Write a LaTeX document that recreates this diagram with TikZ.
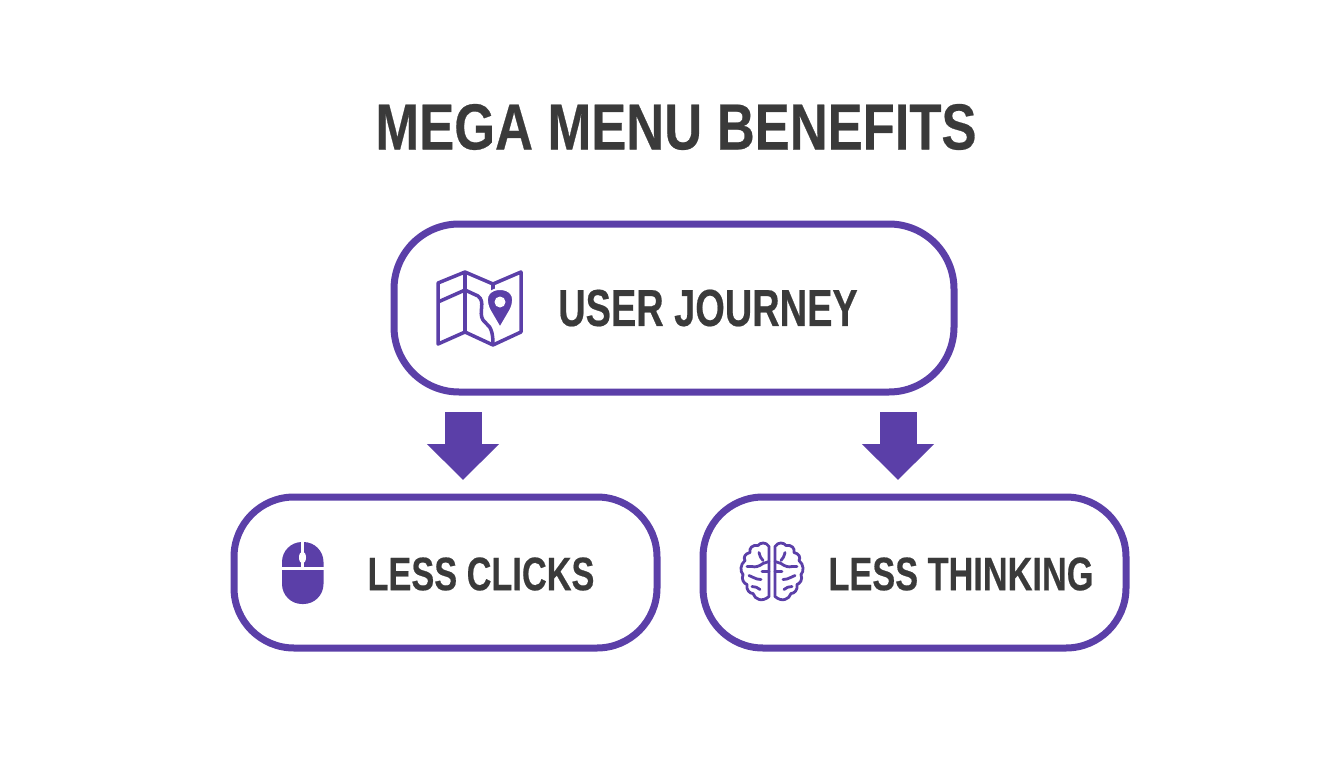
\documentclass[tikz,border=0pt]{standalone}
\usepackage{fontspec}
\setmainfont[FakeStretch=0.808,BoldFeatures={FakeBold=0.4}]{Liberation Sans}
\newfontfamily\labelfont[FakeStretch=0.73,BoldFeatures={FakeBold=0.4}]{Liberation Sans}
\usetikzlibrary{arrows.meta}
\usetikzlibrary{positioning}
\definecolor{brandpurple}{HTML}{5B3FA8}
\definecolor{inkgray}{HTML}{3A3A3A}
\tikzset{benefitbox/.style = {draw=brandpurple, line width=7pt, rounded corners=#1, inner sep=0}}
\tikzset{flowarrow/.style = {draw=brandpurple, line width=37pt, -{Triangle[width=70pt,length=36pt,fill=brandpurple]}}}
\tikzset{titletext/.style = {text=inkgray, inner sep=0, font=\fontsize{65}{70}\selectfont\bfseries}}
\tikzset{bigtext/.style = {text=inkgray, inner sep=0, font=\labelfont\fontsize{52}{56}\selectfont\bfseries}}
\tikzset{smalltext/.style = {text=inkgray, inner sep=0, font=\labelfont\fontsize{47}{50}\selectfont\bfseries}}
\tikzset{iconline/.style = {draw=brandpurple, line width=3.5pt, line join=round}}
\tikzset{brainline/.style = {draw=brandpurple, line width=2.8pt, line cap=round, line join=round}}

\begin{document}
\begin{tikzpicture}[x=1pt, y=-1pt]
      \useasboundingbox (0, 0) rectangle (1344, 768);

      \node [titletext] (title) at (676, 127) {MEGA MENU BENEFITS};

      \node [benefitbox=65pt, minimum width=560pt, minimum height=168pt] (journey) at (674, 308) {};
      \node [benefitbox=60pt, minimum width=423pt, minimum height=151pt] (clicks) at (445.5, 572.5) {};
      \node [benefitbox=60pt, minimum width=423pt, minimum height=151pt] (thinking) at (914.5, 572.5) {};

      \node [bigtext] (journeytext) at (708, 308) {USER JOURNEY};
      \node [smalltext] (clickstext) at (481, 574) {LESS CLICKS};
      \node [smalltext] (thinkingtext) at (961, 574) {LESS THINKING};

      \coordinate (leftdrop) at (463, 0);
      \coordinate (rightdrop) at (898, 0);
      \draw [flowarrow, shorten <=16.5pt, shorten >=13.5pt] (journey.south -| leftdrop) -- (clicks.north -| leftdrop);
      \draw [flowarrow, shorten <=16.5pt, shorten >=13.5pt] (journey.south -| rightdrop) -- (thinking.north -| rightdrop);

      % map
      \draw [iconline] (438, 283) -- (465, 272) -- (493, 284) -- (521, 272) -- (521, 332) -- (493, 345) -- (465, 332) -- (438, 344) -- cycle;
      \draw [iconline] (465, 272) -- (465, 332);
      \draw [iconline] (493, 284) -- (493, 300);
      \draw [iconline] (438, 302) -- (465, 290) -- (478, 296) .. controls (486, 302) and (478, 312) .. (483, 320) .. controls (487, 326) and (493, 324) .. (493, 345);
      \fill [brandpurple, draw=white, line width=2pt] (500, 328) -- (489.5, 310) .. controls (482, 294) and (492, 289) .. (500, 289) .. controls (508, 289) and (518, 294) .. (510.5, 310) -- cycle;
      \fill [white] (500, 302) circle [radius=5.5];

      % mouse
      \fill [brandpurple, rounded corners=20pt] (282, 542) rectangle (323.5, 604);
      \draw [white, line width=2.5pt] (280, 568.5) -- (326, 568.5);
      \draw [white, line width=2.5pt] (302.5, 540) -- (302.5, 568.5);
      \fill [white] (302.5, 557.5) ellipse [x radius=3.5, y radius=6];

      % brain
      \foreach \side in {1, -1} {
        \begin{scope}[shift={(772, 571.5)}, xscale=\side]
          \draw [brainline] (-3, -25) .. controls (-6, -30) and (-12, -29) .. (-14, -26) .. controls (-20, -27) and (-23, -23) .. (-22, -19) .. controls (-27, -18) and (-29, -14) .. (-27, -11) .. controls (-32, -7) and (-32, 0) .. (-29, 3) .. controls (-31, 8) and (-28, 12) .. (-25, 13) .. controls (-26, 19) and (-22, 22) .. (-19, 22) .. controls (-17, 28) and (-10, 31) .. (-3, 25) -- cycle;
          \draw [brainline] (-13, -19) .. controls (-12, -15) and (-11, -13) .. (-9, -11);
          \draw [brainline] (-3, -10) -- (-9, -8) .. controls (-13, -5) and (-17, -4) .. (-20, -5);
          \draw [brainline] (-25, -5) -- (-20, -5);
          \draw [brainline] (-3, 0) -- (-10, 0);
          \draw [brainline] (-23, 4) .. controls (-19, 5) and (-17, 8) .. (-11, 8);
          \draw [brainline] (-20, 15) .. controls (-17, 15) and (-14, 16) .. (-12, 18);
        \end{scope}
      }
    \end{tikzpicture}
\end{document}
